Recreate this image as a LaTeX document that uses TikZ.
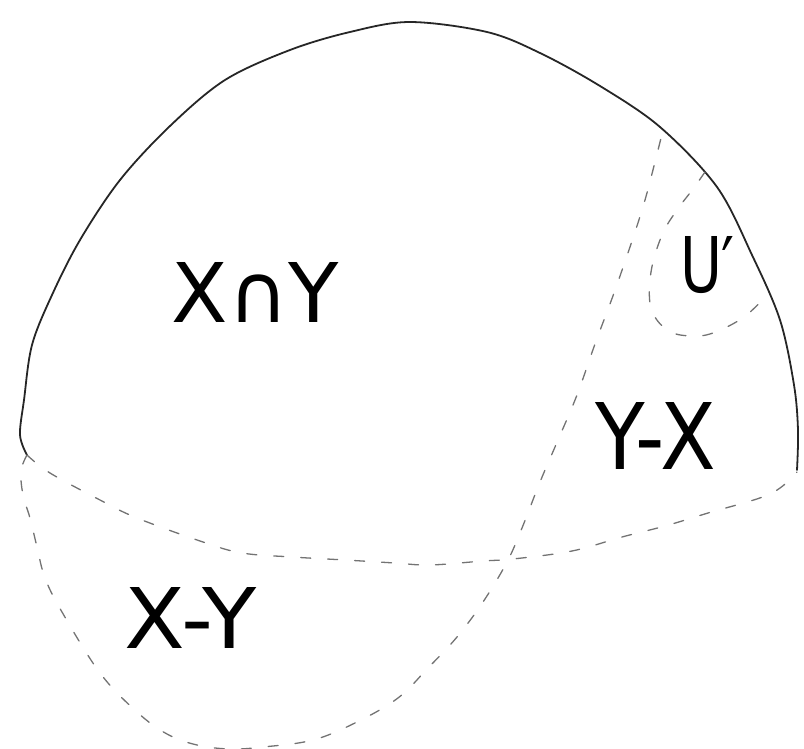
\documentclass[tikz,border=0pt]{standalone}
\usepackage{fontspec}
\setmainfont{DejaVu Sans}
\usepackage{graphicx}
\tikzset{
  outline/.style={draw=black!85, line width=1.8pt, line cap=round, line join=round},
  boundary/.style={draw=black!55, line width=1.3pt, line cap=round, dash pattern=on 10pt off 17pt},
  lab/.style={inner sep=0pt, outer sep=0pt, anchor=center, text=black}
}
\begin{document}
\begin{tikzpicture}[x=1pt,y=-1pt]
\useasboundingbox (0,0) rectangle (804,749);
% solid outer outline
\draw[outline] plot[smooth, tension=0.55] coordinates {
 (27,455) (20,435) (24,400) (32,345) (52,295) (80,240) (120,180) (170,126)
 (225,80) (290,50) (350,32) (410,22) (487,32) (540,53) (600,86) (660,127)
 (717,187) (752,255) (780,320) (794,385) (798,430) (797,470)};
% equator (boundary of Y)
\draw[boundary] plot[smooth, tension=0.6] coordinates {
 (27,455) (50,473) (100,500) (137,518) (203,542) (242,553) (292,557) (345,560)
 (395,563) (430,565) (483,561) (513,559) (572,551) (622,537) (665,526) (708,513)
 (770,494) (797,472)};
% boundary of X
\draw[boundary] plot[smooth, tension=0.6] coordinates {
 (27,455) (21,471) (23,495) (30,518) (37,547) (45,578) (62,612) (100,673) (137,712)
 (167,734) (197,745) (230,749) (263,747) (313,740) (357,722) (398,698) (428,668)
 (457,637) (483,602) (507,562) (522,528) (540,482) (558,440) (577,395) (595,344)
 (614,293) (633,238) (645,200) (655,162) (663,130)};
% boundary of U'
\draw[boundary] plot[smooth, tension=0.6] coordinates {
 (705,172) (693,189) (677,210) (662,235) (651,272) (651,308) (667,330) (690,336)
 (713,333) (744,317) (768,294)};
% labels
\node[lab] (xy) at (255.5,292) {\resizebox{167pt}{60pt}{X∩Y}};
\node[lab] (u) at (707.5,265) {\resizebox{55pt}{56pt}{U′}};
\node[lab] (yx) at (655.5,435.5) {\resizebox{121pt}{67pt}{Y-X}};
\node[lab] (xmy) at (191,617.5) {\resizebox{132pt}{61pt}{X-Y}};
\end{tikzpicture}
\end{document}
